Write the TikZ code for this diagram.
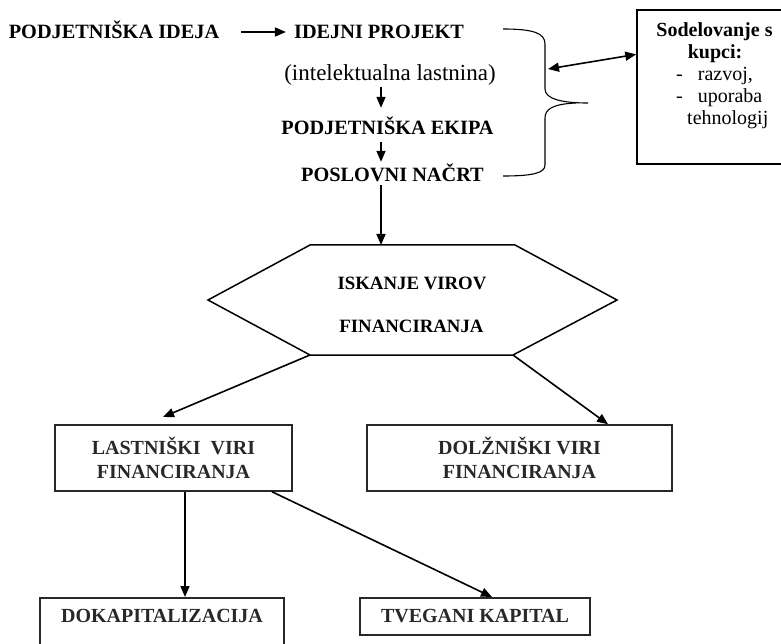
\documentclass[tikz,border=0pt]{standalone}
\usepackage{fontspec}
\setmainfont{Liberation Serif}
\usetikzlibrary{arrows.meta,calc}
\definecolor{dk}{RGB}{40,40,40}
\begin{document}
\begin{tikzpicture}[x=1pt,y=-1pt,
  lbl/.style={font=\fontsize{20.3}{24}\selectfont\bfseries, inner sep=0pt, text height=14pt, text depth=0pt},
  hexlbl/.style={font=\fontsize{18.8}{22}\selectfont\bfseries, inner sep=0pt},
  reg/.style={font=\fontsize{20}{24}\selectfont, inner sep=0pt},
  boldsm/.style={font=\fontsize{20}{24}\selectfont\bfseries, inner sep=0pt},
  arr/.style={-{Triangle[length=11pt,width=9pt]}, line width=1.6pt},
  dblarr/.style={{Triangle[length=11pt,width=9pt]}-{Triangle[length=11pt,width=9pt]}, line width=1.6pt},
  ln/.style={line width=1.5pt},
  box/.style={draw=dk, line width=1.5pt, inner sep=0pt, text=dk, font=\fontsize{20}{24}\selectfont\bfseries},
]
\useasboundingbox (0,0) rectangle (781,644);
\clip (0,0) rectangle (781,644);

% top chain
\node[lbl, anchor=base] (idea) at (114,39) {PODJETNIŠKA IDEJA};
\node[lbl, anchor=base] (proj) at (379,39) {IDEJNI PROJEKT};
\node[font=\fontsize{23}{26}\selectfont, inner sep=0pt, anchor=base, text height=17pt, text depth=5pt] (ip) at (390,81) {(intelektualna lastnina)};
\node[lbl, anchor=base] (ekipa) at (387.5,135) {PODJETNIŠKA EKIPA};
\node[lbl, anchor=base] (nacrt) at (392.5,182) {POSLOVNI NAČRT};
\coordinate (ax) at (381,0);

\draw[arr] ([xshift=22pt]idea.east) -- ([xshift=-8pt]proj.west);
\draw[arr, shorten <=1pt, shorten >=13pt] (ip.south -| ax) -- (ekipa.north -| ax);
\draw[arr, shorten <=7pt, shorten >=6pt] (ekipa.south -| ax) -- (nacrt.north -| ax);

% brace
\draw[line width=1.1pt] (503,29) .. controls (533,29) and (545,33) .. (545,44) -- (545,89)
  .. controls (545,99) and (562,103) .. (588,103);
\draw[line width=1.1pt] (576,103) .. controls (553,104) and (545,109) .. (545,118) -- (545,165)
  .. controls (545,173) and (533,176) .. (503,176);
\coordinate (bmid) at (548,69);

% customer box
\node[draw, line width=1.5pt, minimum width=145pt, minimum height=154pt, inner sep=0pt] (kupci) at (709.5,87) {};
\coordinate (kp) at ($(kupci.north west)!0.29!(kupci.south west)$);
\draw[dblarr] (bmid) -- (kp);
\node[boldsm, anchor=base] (k1) at (714.5,37) {Sodelovanje s};
\node[boldsm, anchor=base] (k2) at (715,59) {kupci:};
\node[reg, anchor=base west] (k3) at (676,81) {-\hspace{15pt}razvoj,};
\node[reg, anchor=base west] (k4) at (676,103) {-\hspace{15pt}uporaba};
\node[reg, anchor=base west] (k5) at (687,125) {tehnologij};

% hexagon
\coordinate (h1) at (310,245);
\coordinate (h2) at (515,245);
\coordinate (h3) at (617,300);
\coordinate (h4) at (513,355);
\coordinate (h5) at (310,355);
\coordinate (h6) at (208,300);
\draw[ln] (h1) -- (h2) -- (h3) -- (h4) -- (h5) -- (h6) -- cycle;
\node[hexlbl, anchor=base] (isk1) at (412,289) {ISKANJE VIROV};
\node[hexlbl, anchor=base] (isk2) at (411.5,332) {FINANCIRANJA};
\draw[arr, shorten <=3pt] (nacrt.south -| ax) -- (h1 -| ax);

% source boxes
\node[box, align=center, minimum width=237pt, minimum height=66pt] (last) at (173.5,458) {LASTNIŠKI\ \ VIRI\\FINANCIRANJA};
\node[box, align=center, minimum width=305pt, minimum height=66pt] (dolz) at (519.5,458) {DOLŽNIŠKI VIRI\\FINANCIRANJA};

\coordinate (ltip) at (163,417);
\coordinate (xr) at (608,0);
\draw[arr] (h5) -- (ltip);
\draw[arr] (h4) -- (dolz.north -| xr);

% bottom boxes
\node[box, minimum width=244pt, anchor=north, text height=25pt, text depth=35pt] (doka) at (162,597) {DOKAPITALIZACIJA};
\node[box, minimum width=230pt, anchor=north, text height=25pt, text depth=12pt] (tveg) at (475,597) {TVEGANI KAPITAL};

\coordinate (xv) at (185,0);
\coordinate (xd) at (272,0);
\coordinate (xt) at (492,0);
\draw[arr] (last.south -| xv) -- (doka.north -| xv);
\draw[arr] (last.south -| xd) -- (tveg.north -| xt);
\end{tikzpicture}
\end{document}
